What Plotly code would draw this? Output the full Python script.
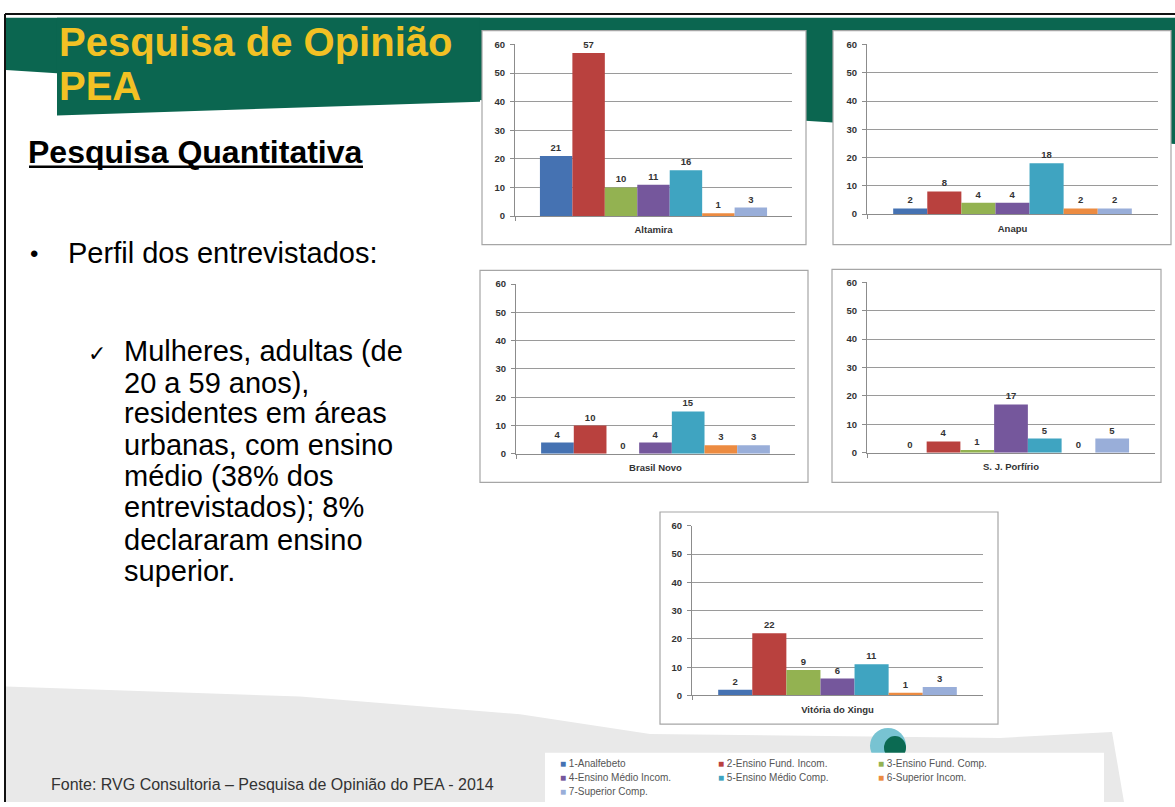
import plotly.graph_objects as go

W, H = 1175, 807

# ---------------- data ----------------
categories = ["1-Analfebeto", "2-Ensino Fund. Incom.", "3-Ensino Fund. Comp.",
              "4-Ensino Médio Incom.", "5-Ensino Médio Comp.", "6-Superior Incom.",
              "7-Superior Comp."]
cities = ["Altamira", "Anapu", "Brasil Novo", "S. J. Porfírio", "Vitória do Xingu"]
altamira = [21, 57, 10, 11, 16, 1, 3]
anapu = [2, 8, 4, 4, 18, 2, 2]
brasil_novo = [4, 10, 0, 4, 15, 3, 3]
sj_porfirio = [0, 4, 1, 17, 5, 0, 5]
vitoria_xingu = [2, 22, 9, 6, 11, 1, 3]
y_ticks = [0, 10, 20, 30, 40, 50, 60]

body_lines = ["Mulheres, adultas (de", "20 a 59 anos),", "residentes em áreas",
              "urbanas, com ensino", "médio (38% dos", "entrevistados); 8%",
              "declararam ensino", "superior."]

# ---------------- styling ----------------
colors = ["#4572b2", "#b9413e", "#93b251", "#75579c", "#3fa4c1", "#ec8b41", "#99aed9"]
GREEN = "#0b6650"
YELLOW = "#f2c124"
FONT = "Liberation Sans"


def px(x):
    return x / W


def py(y):
    return 1 - y / H


def path(points):
    return "M " + " L ".join(f"{px(x):.5f},{py(y):.5f}" for x, y in points) + " Z"


# panel geometry in pixels: frame box, plot box
panels = [
    dict(frame=(482, 25, 806, 242), plot=(515, 39, 792, 213)),
    dict(frame=(833, 25, 1171, 242), plot=(867, 39, 1158, 211)),
    dict(frame=(480, 268, 808, 483), plot=(516, 282, 795, 454)),
    dict(frame=(832, 267, 1161, 483), plot=(867, 280, 1155, 453)),
    dict(frame=(660, 513, 998, 728), plot=(692, 527, 983, 699)),
]
series = [altamira, anapu, brasil_novo, sj_porfirio, vitoria_xingu]

fig = go.Figure()
layout_axes = {}
shapes = []

# background shapes
shapes.append(dict(type="path", xref="paper", yref="paper", layer="below",
                   path=path([(6, 12), (1175, 12), (1175, 140), (6, 65)]),
                   fillcolor=GREEN, line=dict(width=0)))
shapes.append(dict(type="path", xref="paper", yref="paper", layer="below",
                   path=path([(57, 12), (480, 12), (480, 97), (57, 111)]),
                   fillcolor=GREEN, line=dict(width=0)))
shapes.append(dict(type="path", xref="paper", yref="paper", layer="below",
                   path=path([(6, 690), (300, 700), (520, 718), (650, 738), (1000, 742),
                              (1112, 736), (1124, 807), (6, 807)]),
                   fillcolor="#e9e9e9", line=dict(width=0)))
# page border
shapes.append(dict(type="line", xref="paper", yref="paper", layer="below",
                   x0=px(5), x1=px(5), y0=py(8), y1=py(807),
                   line=dict(color="#111", width=2)))
shapes.append(dict(type="line", xref="paper", yref="paper", layer="below",
                   x0=px(5), x1=px(1175), y0=py(8), y1=py(8),
                   line=dict(color="#111", width=2)))
# logo
shapes.append(dict(type="circle", xref="paper", yref="paper", layer="below",
                   x0=px(870), x1=px(906), y0=py(768), y1=py(732),
                   fillcolor="#78c3d2", line=dict(width=0)))
shapes.append(dict(type="circle", xref="paper", yref="paper", layer="below",
                   x0=px(884), x1=px(906), y0=py(764), y1=py(740),
                   fillcolor="#0b6a52", line=dict(width=0)))
# legend box
shapes.append(dict(type="rect", xref="paper", yref="paper", layer="below",
                   x0=px(545), x1=px(1104), y0=py(807), y1=py(757),
                   fillcolor="white", line=dict(width=0)))

for i, (pan, vals, city) in enumerate(zip(panels, series, cities), start=1):
    fx0, fy0, fx1, fy1 = pan["frame"]
    x0, y0, x1, y1 = pan["plot"]
    shapes.append(dict(type="rect", xref="paper", yref="paper", layer="below",
                       x0=px(fx0), x1=px(fx1), y0=py(fy1), y1=py(fy0),
                       fillcolor="white", line=dict(color="#a6a6a6", width=1.2)))
    sfx = "" if i == 1 else str(i)
    layout_axes["xaxis" + sfx] = dict(
        domain=[px(x0), px(x1)], anchor="y" + sfx, type="category",
        showgrid=False, showline=True, linecolor="#8c8c8c", linewidth=1,
        ticks="outside", tickson="boundaries", ticklen=4, tickcolor="#8c8c8c",
        tickfont=dict(family=FONT, size=9.5, color="#333", weight="bold"),
        ticklabelstandoff=5, fixedrange=True)
    layout_axes["yaxis" + sfx] = dict(
        domain=[py(y1), py(y0)], anchor="x" + sfx, range=[0, 60],
        tickvals=y_ticks, showgrid=True, gridcolor="#9a9a9a", gridwidth=1,
        showline=True, linecolor="#8c8c8c", linewidth=1, zeroline=False,
        ticks="outside", ticklen=4, tickcolor="#8c8c8c",
        tickfont=dict(family=FONT, size=9.5, color="#333", weight="bold"),
        ticklabelstandoff=3, fixedrange=True)
    for j, cat in enumerate(categories):
        fig.add_trace(go.Bar(
            x=[city], y=[vals[j]], name=cat, marker_color=colors[j],
            marker_line_width=0, xaxis="x" + sfx, yaxis="y" + sfx,
            showlegend=False, text=[vals[j]], textposition="outside",
            textfont=dict(family=FONT, size=9.5, color="#333", weight="bold"),
            cliponaxis=False, hoverinfo="skip"))

annotations = []


def text(x, y, s, size, color="#000", bold=False, family=FONT, anchor="left"):
    annotations.append(dict(
        xref="paper", yref="paper", x=px(x), y=py(y), text=s, showarrow=False,
        xanchor=anchor, yanchor="middle",
        font=dict(family=family, size=size, color=color,
                  weight="bold" if bold else "normal")))


text(57, 37, "Pesquisa de Opinião", 40, YELLOW, True)
text(57, 81, "PEA", 40, YELLOW, True)
text(26, 148, "Pesquisa Quantitativa", 32, "#000", True)
shapes.append(dict(type="line", xref="paper", yref="paper",
                   x0=px(29), x1=px(363), y0=py(163), y1=py(163),
                   line=dict(color="#000", width=2.5)))
text(28, 251, "•", 24, "#000")
text(66, 250, "Perfil dos entrevistados:", 29, "#000")
text(86, 352, "✓", 22, "#000", family="DejaVu Sans")
line_y = [350, 382, 413, 445, 477, 508, 541, 573]
for ly, s in zip(line_y, body_lines):
    text(122, ly, s, 29, "#000")

text(49, 789, "Fonte: RVG Consultoria – Pesquisa de Opinião do PEA - 2014", 16, "#333")

# legend entries
leg_cols = [558, 716, 876]
leg_rows = [768, 782, 796]
for k, (cat, col) in enumerate(zip(categories, colors)):
    r, c = divmod(k, 3)
    text(leg_cols[c], leg_rows[r],
         f"<span style='color:{col}'>■</span> {cat}", 10, "#555")

fig.update_layout(
    width=W, height=H, margin=dict(l=0, r=0, t=0, b=0),
    paper_bgcolor="white", plot_bgcolor="rgba(0,0,0,0)",
    barmode="group", bargap=0.18, bargroupgap=0,
    shapes=shapes, annotations=annotations, showlegend=False,
    font=dict(family=FONT),
    **layout_axes)

fig.write_html("out.html", config={"displayModeBar": False},
               post_script="document.body.style.margin='0';")
